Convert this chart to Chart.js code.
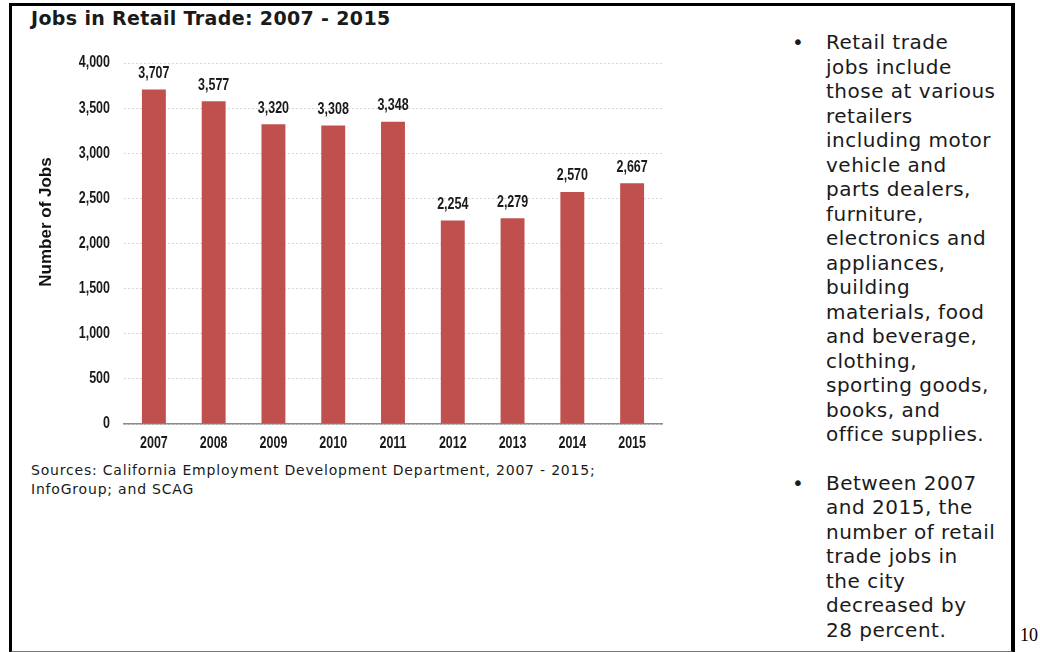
<!DOCTYPE html>
<html lang="en">
<head>
<meta charset="UTF-8">
<title>Jobs in Retail Trade: 2007 - 2015</title>
<script src="https://cdn.jsdelivr.net/npm/chart.js"></script>
<style>
    body {
        margin: 0;
        width: 1040px;
        height: 652px;
        background: #ffffff;
        position: relative;
        overflow: hidden;
        font-family: 'DejaVu Sans', Verdana, sans-serif;
        color: #1a1a1a;
    }

    .frame {
        position: absolute;
        left: 9px;
        top: 3px;
        width: 999px;
        height: 645px;
        border-left: 3px solid #000;
        border-top: 3px solid #000;
        border-right: 4px solid #000;
        border-bottom: 2px solid #777;
    }

    .title {
        position: absolute;
        left: 31px;
        top: 7px;
        font-weight: bold;
        font-size: 19px;
        letter-spacing: 0.35px;
        white-space: nowrap;
    }

    .chart-box {
        position: absolute;
        left: 20px;
        top: 40px;
        width: 660px;
        height: 420px;
    }

    .sources {
        position: absolute;
        left: 31px;
        top: 461px;
        font-size: 14px;
        letter-spacing: 0.8px;
        line-height: 19px;
        white-space: nowrap;
    }

    .notes {
        position: absolute;
        left: 826px;
        top: 30px;
        font-size: 20px;
        letter-spacing: 0.5px;
        line-height: 24.5px;
        margin: 0;
        padding: 0;
        list-style: none;
        white-space: nowrap;
    }

    .notes li {
        position: relative;
        margin-bottom: 24px;
    }

    .notes li::before {
        content: '\2022';
        position: absolute;
        left: -34px;
        top: 0;
        font-size: 20px;
    }

    .page {
        position: absolute;
        left: 1020px;
        top: 625px;
        font-family: 'Liberation Serif', 'Times New Roman', serif;
        font-size: 18px;
        color: #000;
    }
</style>
</head>
<body>

<div class="frame"></div>
<div class="title">Jobs in Retail Trade: 2007 - 2015</div>

<div class="chart-box">
    <canvas id="jobsChart"></canvas>
</div>

<div class="sources">Sources: California Employment Development Department, 2007 - 2015;<br>InfoGroup; and SCAG</div>

<ul class="notes">
    <li>Retail trade<br>jobs include<br>those at various<br>retailers<br>including motor<br>vehicle and<br>parts dealers,<br>furniture,<br>electronics and<br>appliances,<br>building<br>materials, food<br>and beverage,<br>clothing,<br>sporting goods,<br>books, and<br>office supplies.</li>
    <li>Between 2007<br>and 2015, the<br>number of retail<br>trade jobs in<br>the city<br>decreased by<br>28 percent.</li>
</ul>

<div class="page">10</div>

<script>
    // data
    const years = ['2007', '2008', '2009', '2010', '2011', '2012', '2013', '2014', '2015'];
    const jobs = [3707, 3577, 3320, 3308, 3348, 2254, 2279, 2570, 2667];
    const yTicks = [0, 500, 1000, 1500, 2000, 2500, 3000, 3500, 4000];

    const fmt = function(v) { return v.toLocaleString('en-US'); };

    // no narrow font installed, so squeeze Liberation Sans horizontally
    function narrowText(ctx, text, x, y, align) {
        ctx.save();
        ctx.translate(x, y);
        ctx.scale(0.78, 1);
        ctx.textAlign = align;
        ctx.fillText(text, 0, 0);
        ctx.restore();
    }

    // tick labels, value labels and y title
    const labelsPlugin = {
        id: 'labelsPlugin',
        afterDraw(chart) {
            const ctx = chart.ctx;
            const xs = chart.scales.x;
            const ys = chart.scales.y;
            const meta = chart.getDatasetMeta(0);
            ctx.save();
            ctx.fillStyle = '#1a1a1a';
            ctx.textBaseline = 'middle';
            ctx.font = "bold 16px 'Liberation Sans', Arial, sans-serif";

            yTicks.forEach(function(v) {
                narrowText(ctx, fmt(v), ys.right - 14, ys.getPixelForValue(v), 'right');
            });
            years.forEach(function(y, i) {
                narrowText(ctx, y, xs.getPixelForValue(i), xs.top + 20, 'center');
            });
            meta.data.forEach(function(bar, i) {
                narrowText(ctx, fmt(jobs[i]), bar.x, bar.y - 16, 'center');
            });

            // y axis title sits a bit above the middle like the original
            ctx.translate(26, 182);
            ctx.rotate(-Math.PI / 2);
            ctx.font = "bold 17px 'Liberation Sans', Arial, sans-serif";
            ctx.fillStyle = '#111111';
            ctx.textAlign = 'center';
            ctx.fillText('Number of Jobs', 0, 0);
            ctx.restore();
        }
    };

    new Chart(document.getElementById('jobsChart'), {
        type: 'bar',
        data: {
            labels: years,
            datasets: [{
                data: jobs,
                backgroundColor: '#C0504D',
                barPercentage: 0.4,
                categoryPercentage: 1
            }]
        },
        options: {
            responsive: true,
            maintainAspectRatio: false,
            animation: false,
            layout: { padding: { top: 23, right: 18, left: 0, bottom: 0 } },
            plugins: {
                legend: { display: false },
                tooltip: { enabled: false }
            },
            scales: {
                x: {
                    grid: { display: false, drawTicks: false },
                    border: { display: true, color: '#8c8c8c', width: 1.5 },
                    ticks: { display: false },
                    afterFit: function(s) { s.height = 36; }
                },
                y: {
                    min: 0,
                    max: 4000,
                    afterBuildTicks: function(s) {
                        s.ticks = yTicks.map(function(v) { return { value: v }; });
                    },
                    grid: { color: '#d6d6d6', drawTicks: false },
                    border: { display: false, dash: [2, 2] },
                    ticks: { display: false },
                    afterFit: function(s) { s.width = 104; }
                }
            }
        },
        plugins: [labelsPlugin]
    });
</script>

</body>
</html>
